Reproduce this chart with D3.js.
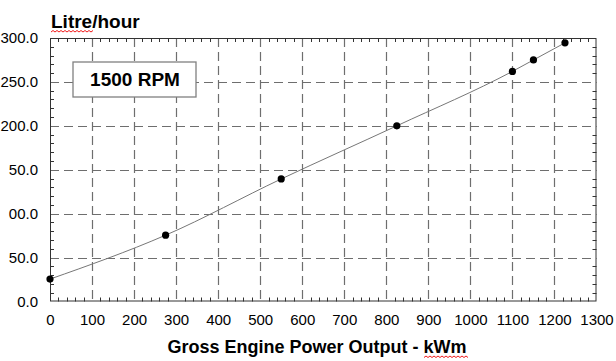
<!DOCTYPE html>
<html>
<head>
<meta charset="utf-8">
<script src="https://cdn.jsdelivr.net/npm/d3@7"></script>
<style>
  html, body { margin: 0; padding: 0; background: #fff; }
  svg { display: block; font-family: "Liberation Sans", Arial, sans-serif; }
</style>
</head>
<body>
<svg id="chart" width="616" height="361"></svg>
<script>
// ---- data ----
const powerKWm = [0, 275, 550, 825, 1100, 1150, 1225];
const fuelLph  = [25.5, 75.5, 139.5, 200, 262, 275, 294.5];
const xTicks = [0, 100, 200, 300, 400, 500, 600, 700, 800, 900, 1000, 1100, 1200, 1300];
const yTicks = [0, 50, 100, 150, 200, 250, 300];
const yTickLabels = ["0.0", "50.0", "00.0", "50.0", "200.0", "250.0", "300.0"];
const yTitle = "Litre/hour";
const xTitle = "Gross Engine Power Output - kWm";
const boxLabel = "1500 RPM";

// ---- layout ----
const svg = d3.select("#chart");
const pL = 50, pR = 596.5, pT = 38, pB = 301.5;
const x = d3.scaleLinear().domain([0, 1300]).range([pL, pR]);
const y = d3.scaleLinear().domain([0, 300]).range([pB, pT]);

// minor ticks (inward)
const g = svg.append("g");
const xMinor = d3.range(0, 1301, 20).filter(v => v % 100 !== 0);
const yMinor = d3.range(0, 301, 10).filter(v => v % 50 !== 0);
g.selectAll(".mxb").data(xMinor).join("line")
  .attr("x1", d => Math.round(x(d)) + 0.5).attr("x2", d => Math.round(x(d)) + 0.5)
  .attr("y1", pB).attr("y2", pB - 4).attr("stroke", "#333").attr("stroke-width", 1);
g.selectAll(".mxt").data(xMinor).join("line")
  .attr("x1", d => Math.round(x(d)) + 0.5).attr("x2", d => Math.round(x(d)) + 0.5)
  .attr("y1", pT).attr("y2", pT + 4).attr("stroke", "#333").attr("stroke-width", 1);
g.selectAll(".myl").data(yMinor).join("line")
  .attr("y1", d => Math.round(y(d)) + 0.5).attr("y2", d => Math.round(y(d)) + 0.5)
  .attr("x1", pL).attr("x2", pL + 4).attr("stroke", "#333").attr("stroke-width", 1);
g.selectAll(".myr").data(yMinor).join("line")
  .attr("y1", d => Math.round(y(d)) + 0.5).attr("y2", d => Math.round(y(d)) + 0.5)
  .attr("x1", pR).attr("x2", pR - 4).attr("stroke", "#333").attr("stroke-width", 1);

// major dashed grid
g.selectAll(".gx").data(xTicks.slice(1, -1)).join("line")
  .attr("x1", d => Math.round(x(d)) + 0.5).attr("x2", d => Math.round(x(d)) + 0.5)
  .attr("y1", pT).attr("y2", pB)
  .attr("stroke", "#6e6e6e").attr("stroke-width", 1.2).attr("stroke-dasharray", "9,5");
g.selectAll(".gy").data(yTicks.slice(1, -1)).join("line")
  .attr("y1", d => Math.round(y(d)) + 0.5).attr("y2", d => Math.round(y(d)) + 0.5)
  .attr("x1", pL).attr("x2", pR)
  .attr("stroke", "#6e6e6e").attr("stroke-width", 1.2).attr("stroke-dasharray", "9,5");

// frame
svg.append("rect").attr("x", pL + 0.5).attr("y", pT + 0.5)
  .attr("width", pR - pL - 1).attr("height", pB - pT - 1)
  .attr("fill", "none").attr("stroke", "#333").attr("stroke-width", 1);

// axes labels via d3 axes
const xAxis = d3.axisBottom(x).tickValues(xTicks).tickSize(0).tickPadding(0).tickFormat(d3.format("d"));
const xg = svg.append("g").attr("transform", `translate(0,${pB + 13})`).call(xAxis);
xg.select(".domain").remove();
xg.selectAll("text").attr("font-size", 15).attr("fill", "#000").attr("dy", "0.71em")
  .attr("font-family", "Liberation Sans, Arial, sans-serif").attr("y", 0);

const yAxis = d3.axisLeft(y).tickValues(yTicks).tickSize(0).tickPadding(0)
  .tickFormat((d, i) => yTickLabels[i]);
const yg = svg.append("g").attr("transform", `translate(${pL - 12},0)`).call(yAxis);
yg.select(".domain").remove();
yg.selectAll("text").attr("font-size", 15).attr("fill", "#000")
  .attr("font-family", "Liberation Sans, Arial, sans-serif").attr("x", 0);

// curve
const pts = powerKWm.map((p, i) => [p, fuelLph[i]]);
svg.append("path").datum(pts)
  .attr("d", d3.line().x(d => x(d[0])).y(d => y(d[1])).curve(d3.curveMonotoneX))
  .attr("fill", "none").attr("stroke", "#777").attr("stroke-width", 1);
svg.selectAll(".dot").data(pts).join("circle")
  .attr("cx", d => x(d[0])).attr("cy", d => y(d[1])).attr("r", 3.6).attr("fill", "#000");

// RPM box
svg.append("rect").attr("x", 73).attr("y", 62).attr("width", 123).attr("height", 35)
  .attr("fill", "#fff").attr("stroke", "#808080").attr("stroke-width", 1.3);
svg.append("text").attr("x", 135).attr("y", 86).attr("text-anchor", "middle")
  .attr("font-size", 19).attr("font-weight", "bold").attr("fill", "#000").text(boxLabel);

// titles
svg.append("text").attr("x", 51).attr("y", 28).attr("font-size", 19).attr("font-weight", "bold")
  .attr("fill", "#000").text(yTitle);
svg.append("text").attr("x", 317).attr("y", 353).attr("text-anchor", "middle")
  .attr("font-size", 18).attr("font-weight", "bold").attr("fill", "#000").text(xTitle);

// spell-check squiggles
function squiggle(x0, x1, yy) {
  let d = `M${x0},${yy}`;
  let up = true;
  for (let xx = x0 + 2; xx <= x1; xx += 2) { d += `L${xx},${up ? yy - 1.5 : yy}`; up = !up; }
  svg.append("path").attr("d", d).attr("fill", "none").attr("stroke", "#e00").attr("stroke-width", 0.9);
}
squiggle(51, 93, 32);
squiggle(424, 468, 357.5);
</script>
</body>
</html>
